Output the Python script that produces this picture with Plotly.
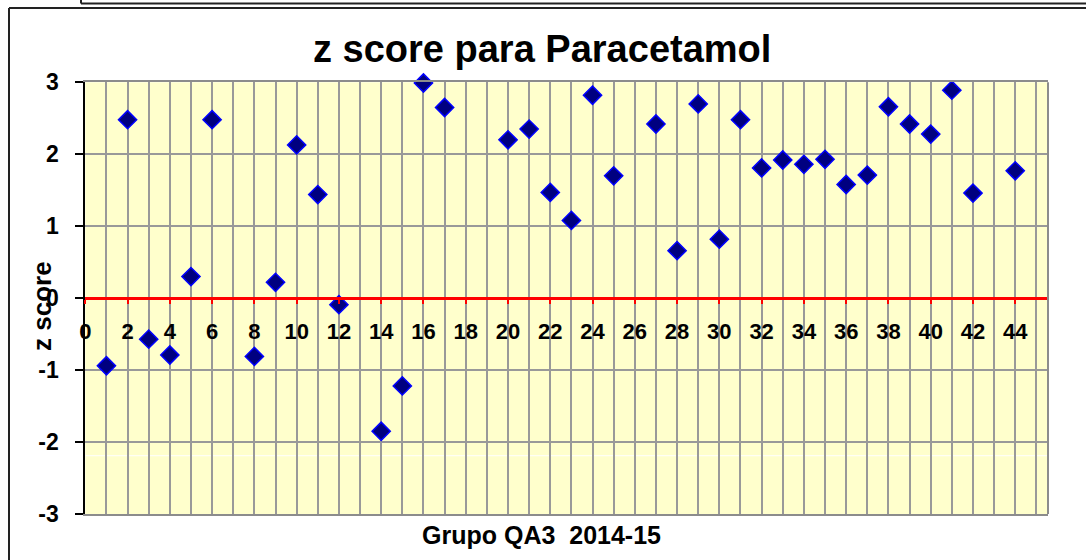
import plotly.graph_objects as go

# ---- data ----
grupo = [1, 2, 3, 4, 5, 6, 8, 9, 10, 11, 12, 14, 15, 16, 17, 20, 21, 22, 23, 24,
         25, 27, 28, 29, 30, 31, 32, 33, 34, 35, 36, 37, 38, 39, 40, 41, 42, 44]
z_score = [-0.94, 2.48, -0.57, -0.79, 0.30, 2.48, -0.81, 0.22, 2.13, 1.44, -0.09,
           -1.85, -1.22, 2.99, 2.65, 2.20, 2.35, 1.47, 1.08, 2.82,
           1.70, 2.42, 0.66, 2.70, 0.82, 2.48, 1.81, 1.92, 1.86, 1.93, 1.58, 1.71,
           2.66, 2.42, 2.28, 2.89, 1.46, 1.77]
x_ticks = list(range(0, 45, 2))
y_ticks = [-3, -2, -1, 0, 1, 2, 3]
y_tick_labels = ["-3", "-2", "-1", "0", "1", "2", "3"]
x_range = [0, 45.55]
y_range = [-3, 3]
white_line_y = -2.19

W, H = 1086, 560
L, R, T, B = 85.3, 1048, 82.3, 514  # plot area in px

xdom = [L / W, R / W]
ydom = [(H - B) / H, (H - T) / H]
zero_pos = ydom[0] + (0 - y_range[0]) / (y_range[1] - y_range[0]) * (ydom[1] - ydom[0])

FONT = "Liberation Sans, Arial, sans-serif"
GRID = "#999999"

fig = go.Figure()
fig.add_trace(go.Scatter(
    x=grupo, y=z_score, mode="markers",
    marker=dict(symbol="diamond", size=14, color="#000080",
                line=dict(color="#0000FF", width=1.5)),
    showlegend=False, cliponaxis=False, xaxis="x", yaxis="y"))
# dummy trace on xaxis2 so it renders
fig.add_trace(go.Scatter(x=[None], y=[None], xaxis="x2", yaxis="y",
                         showlegend=False, hoverinfo="skip"))

fig.update_layout(
    template="none",
    width=W, height=H,
    margin=dict(l=0, r=0, t=0, b=0, pad=0, autoexpand=False),
    paper_bgcolor="white", plot_bgcolor="#FFFFCC",
    font=dict(family=FONT, color="black"),
    showlegend=False,
    xaxis=dict(domain=xdom, range=x_range, dtick=1, tick0=0, showgrid=True,
               gridcolor=GRID, gridwidth=2, showticklabels=False, ticks="",
               showline=True, linecolor="#8c8c8c", linewidth=2, mirror=True,
               zeroline=False, anchor="y", automargin=False),
    xaxis2=dict(overlaying="x", range=x_range, anchor="free", position=zero_pos,
                tickvals=x_ticks, ticks="outside", ticklen=4, tickwidth=2,
                tickcolor="#FF0000", showline=True, linecolor="#FF0000",
                linewidth=3, showgrid=False, zeroline=False, automargin=False,
                tickfont=dict(family=FONT, size=22, color="black", weight="bold"),
                ticklabelstandoff=8),
    yaxis=dict(domain=ydom, range=y_range, tickvals=y_ticks, ticktext=y_tick_labels,
               showgrid=True, gridcolor=GRID, gridwidth=2, zeroline=False,
               ticks="outside", ticklen=8, tickwidth=2, tickcolor="black",
               showline=True, linecolor="black", linewidth=2, anchor="x",
               automargin=False,
               tickfont=dict(family=FONT, size=23, color="black", weight="bold"),
               ticklabelstandoff=12),
)

shapes = [
    # right border of plot area (grey)
    dict(type="line", xref="x domain", yref="y domain", x0=1, x1=1, y0=0, y1=1,
         line=dict(color="#8c8c8c", width=2)),
    # faint white line artifact
    dict(type="line", xref="x", yref="y", x0=x_range[0], x1=x_range[1],
         y0=white_line_y, y1=white_line_y, line=dict(color="white", width=1),
         layer="below"),
    # outer frame: left and top
    dict(type="line", xref="paper", yref="paper", x0=9 / W, x1=9 / W,
         y0=0, y1=(H - 8) / H, line=dict(color="#222222", width=2)),
    dict(type="line", xref="paper", yref="paper", x0=9 / W, x1=1,
         y0=(H - 8) / H, y1=(H - 8) / H, line=dict(color="#222222", width=2)),
    # upper box edge
    dict(type="line", xref="paper", yref="paper", x0=81 / W, x1=1,
         y0=(H - 3.5) / H, y1=(H - 3.5) / H, line=dict(color="#222222", width=2)),
    dict(type="line", xref="paper", yref="paper", x0=81 / W, x1=81 / W,
         y0=(H - 3.5) / H, y1=1, line=dict(color="#222222", width=2)),
]
fig.update_layout(shapes=shapes)

fig.add_annotation(text="<b>z score para Paracetamol</b>", xref="paper", yref="paper",
                   x=542 / W, y=(H - 49) / H, showarrow=False,
                   font=dict(family=FONT, size=38, color="black"),
                   xanchor="center", yanchor="middle")
fig.add_annotation(text="<b>Grupo QA3  2014-15</b>", xref="paper", yref="paper",
                   x=541 / W, y=(H - 535) / H, showarrow=False,
                   font=dict(family=FONT, size=25, color="black"),
                   xanchor="center", yanchor="middle")
fig.add_annotation(text="<b>z score</b>", xref="paper", yref="paper",
                   x=42 / W, y=(H - 306) / H, showarrow=False, textangle=-90,
                   font=dict(family=FONT, size=26, color="black"),
                   xanchor="center", yanchor="middle")

fig.write_html(
    "out.html",
    config={"displayModeBar": False},
    post_script="document.body.style.margin='0';document.body.style.overflow='hidden';",
)
